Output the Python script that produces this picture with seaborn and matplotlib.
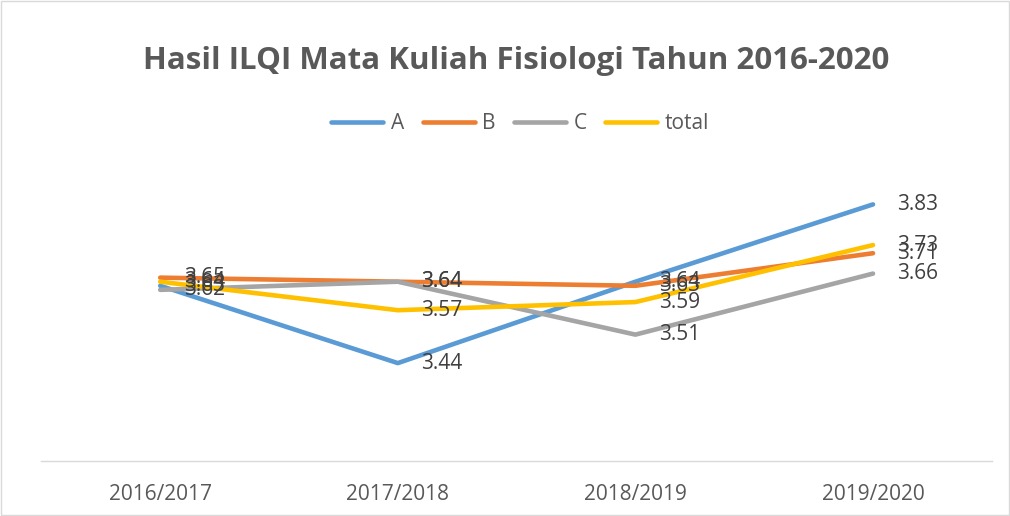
import pandas as pd
import matplotlib.pyplot as plt
import seaborn as sns

# data
years = ['2016/2017', '2017/2018', '2018/2019', '2019/2020']
a_vals = [3.63, 3.44, 3.64, 3.83]
b_vals = [3.65, 3.64, 3.63, 3.71]
c_vals = [3.62, 3.64, 3.51, 3.66]
total_vals = [3.64, 3.57, 3.59, 3.73]
series = ['A', 'B', 'C', 'total']
colors = ['#5B9BD5', '#ED7D31', '#A5A5A5', '#FFC000']

df = pd.DataFrame({
    'Tahun': years * 4,
    'Nilai': a_vals + b_vals + c_vals + total_vals,
    'Kelas': [s for s in series for _ in years],
})

sns.set_theme(style='white')
plt.rcParams['font.family'] = ['Open Sans', 'DejaVu Sans']

fig = plt.figure(figsize=(10.1, 5.16), dpi=100)
ax = fig.add_axes([0.041, 0.107, 0.941, 0.631])

sns.lineplot(data=df, x='Tahun', y='Nilai', hue='Kelas', palette=colors,
             linewidth=3.3, sort=False, ax=ax, legend=False)

ax.set_ylim(3.2, 4.0)
ax.set_xlim(-0.5, len(years) - 0.5)
ax.set_yticks([])
ax.set_xlabel('')
ax.set_ylabel('')
for s in ['top', 'left', 'right']:
    ax.spines[s].set_visible(False)
ax.spines['bottom'].set_color('#D9D9D9')
ax.spines['bottom'].set_linewidth(1)
ax.tick_params(axis='x', length=0, pad=17, labelsize=15, labelcolor='#595959')

# data labels to the right of each point
for vals in [a_vals, b_vals, c_vals, total_vals]:
    for i, v in enumerate(vals):
        ax.annotate(f'{v:.2f}', (i, v), xytext=(17, 0), textcoords='offset points',
                    ha='left', va='center', fontsize=15, color='#404040')

fig.suptitle('Hasil ILQI Mata Kuliah Fisiologi Tahun 2016-2020', x=0.511, y=0.91,
             fontsize=22.5, fontweight='bold', color='#595959')

handles = [plt.Line2D([], [], color=c, linewidth=3.3) for c in colors]
fig.legend(handles, series, loc='center', bbox_to_anchor=(0.515, 0.76), ncol=4,
           frameon=False, fontsize=15, handlelength=2.5, columnspacing=0.9,
           handletextpad=0.35, labelcolor='#595959')

fig.patches.append(plt.Rectangle((0.001, 0.001), 0.998, 0.998, transform=fig.transFigure,
                                 fill=False, edgecolor='#D9D9D9', linewidth=1))

plt.savefig('out.png', dpi=100)
plt.close()
